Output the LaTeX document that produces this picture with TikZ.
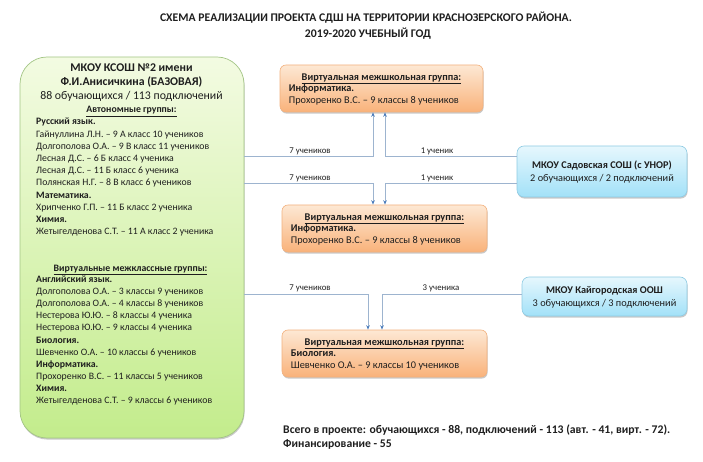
\documentclass[tikz,border=0pt]{standalone}
\usepackage{fontspec}
\setmainfont{Carlito}
\usetikzlibrary{arrows.meta,shadows}
\definecolor{gtop}{HTML}{F3FBE2}
\definecolor{gbot}{HTML}{C3EC8C}
\definecolor{gbord}{HTML}{A3C585}
\definecolor{otop}{HTML}{FDE8D4}
\definecolor{obot}{HTML}{F9B27A}
\definecolor{obord}{HTML}{F2B17E}
\definecolor{btop}{HTML}{E6F7FD}
\definecolor{bbot}{HTML}{A2E1F8}
\definecolor{bbord}{HTML}{8FCBE3}
\definecolor{connc}{HTML}{9DB4CF}
\definecolor{arrc}{HTML}{4F7FBD}
\definecolor{txtc}{HTML}{1E1E1E}
\newcommand{\myfh}{\fontsize{11.8}{13}\selectfont}
\newcommand{\myfb}{\fontsize{9.8}{11}\selectfont}
\newcommand{\myfo}{\fontsize{10.3}{11}\selectfont}
\newcommand{\myfl}{\fontsize{8.8}{9}\selectfont}
\newcommand{\myft}{\fontsize{11.7}{13}\selectfont}
\begin{document}
\begin{tikzpicture}[x=1pt,y=-1pt,
  txt/.style={inner sep=0pt, text=txtc},
  gbox/.style={rounded corners=27pt, draw=gbord, line width=0.7pt, top color=gtop, bottom color=gbot, minimum width=224pt, minimum height=381pt, inner sep=0pt,
    drop shadow={shadow xshift=0.6pt, shadow yshift=-1.6pt, opacity=0.3, fill=black!70}},
  obox/.style={rounded corners=6pt, draw=obord, line width=0.6pt, top color=otop, bottom color=obot, minimum height=47pt, inner sep=0pt,
    drop shadow={shadow xshift=0.6pt, shadow yshift=-1.6pt, opacity=0.3, fill=black!70}},
  bbox/.style={rounded corners=7pt, draw=bbord, line width=0.6pt, top color=btop, bottom color=bbot, inner sep=0pt,
    drop shadow={shadow xshift=0.6pt, shadow yshift=-1.6pt, opacity=0.3, fill=black!70}},
  conn/.style={draw=connc, line width=0.9pt, -{Stealth[length=4.5pt,width=3.6pt,color=arrc]}},
  lbl/.style={font=\myfl, inner sep=0pt, text=txtc},
]
\useasboundingbox (0,0) rectangle (703,462);

% title
\node[txt, font=\myft\bfseries] (t1) at (366,18) {СХЕМА РЕАЛИЗАЦИИ ПРОЕКТА СДШ НА ТЕРРИТОРИИ КРАСНОЗЕРСКОГО РАЙОНА.};
\node[txt, font=\myft\bfseries] (t2) at (368,33.5) {2019-2020 УЧЕБНЫЙ ГОД};

% green box
\node[gbox] (green) at (132,247.5) {};
\node[txt, font=\myfh\bfseries, anchor=base] (h1) at (131.5,71.8) {МКОУ КСОШ №2 имени};
\node[txt, font=\myfh\bfseries, anchor=base] (h2) at (131.5,85.8) {Ф.И.Анисичкина (БАЗОВАЯ)};
\node[txt, font=\myfh, anchor=base] (h3) at (131.5,99.8) {88 обучающихся / 113 подключений};
\node[txt, font=\myfb\bfseries, anchor=base] (h4) at (131.5,113) {\underline{Автономные группы:}};
\foreach \t [count=\i] in {
  {\textbf{Русский язык.}},
  {Гайнуллина Л.Н. – 9 А класс 10 учеников},
  {Долгополова О.А. – 9 В класс 11 учеников},
  {Лесная Д.С. – 6 Б класс 4 ученика},
  {Лесная Д.С. – 11 Б класс 6 ученика},
  {Полянская Н.Г. – 8 В класс 6 учеников},
  {\textbf{Математика.}},
  {Хрипченко Г.П. – 11 Б класс 2 ученика},
  {\textbf{Химия.}},
  {Жетыгелденова С.Т. – 11 А класс 2 ученика}}
  {\node[txt, font=\myfb, anchor=base west] (ga\i) at (36,{124.9+(\i-1)*12.2}) {\t};}
\node[txt, font=\myfb\bfseries, anchor=base] (h5) at (130.5,271.5) {\underline{Виртуальные межклассные группы:}};
\foreach \t [count=\i] in {
  {\textbf{Английский язык.}},
  {Долгополова О.А. – 3 классы 9 учеников},
  {Долгополова О.А. – 4 классы 8 учеников},
  {Нестерова Ю.Ю. – 8 классы 4 ученика},
  {Нестерова Ю.Ю. – 9 классы 4 ученика},
  {\textbf{Биология.}},
  {Шевченко О.А. – 10 классы 6 учеников},
  {\textbf{Информатика.}},
  {Прохоренко В.С. – 11 классы 5 учеников},
  {\textbf{Химия.}},
  {Жетыгелденова С.Т. – 9 классы 6 учеников}}
  {\node[txt, font=\myfb, anchor=base west] (gb\i) at (36,{282.5+(\i-1)*12.1}) {\t};}

% orange boxes
\node[obox, minimum width=203pt] (o1) at (381.5,88.5) {};
\node[obox, minimum width=205pt] (o2) at (384.5,228.5) {};
\node[obox, minimum width=205pt] (o3) at (384.5,353.5) {};
\foreach \b/\s/\p in {o1/Информатика./{Прохоренко В.С. – 9 классы 8 учеников},
                      o2/Информатика./{Прохоренко В.С. – 9 классы 8 учеников},
                      o3/Биология./{Шевченко О.А. – 9 классы 10 учеников}}{
  \node[txt, font=\myfo\bfseries, anchor=base] (\b t) at ([yshift=-15.5pt]\b.north) {\underline{Виртуальная межшкольная группа:}};
  \node[txt, font=\myfo\bfseries, anchor=base west] (\b s) at ([xshift=9pt,yshift=-27pt]\b.north west) {\s};
  \node[txt, font=\myfo, anchor=base west] (\b p) at ([xshift=9pt,yshift=-39pt]\b.north west) {\p};
}

% blue boxes
\node[bbox, minimum width=170pt, minimum height=51pt] (b1) at (602,171.5) {};
\node[txt, font=\myfo\bfseries, anchor=base] (b1a) at (602,168.5) {МКОУ Садовская СОШ (с УНОР)};
\node[txt, font=\myfo, anchor=base] (b1b) at (602,181.5) {2 обучающихся / 2 подключений};
\node[bbox, minimum width=165pt, minimum height=39pt] (b2) at (604.5,296.5) {};
\node[txt, font=\myfo\bfseries, anchor=base] (b2a) at (604.5,293.5) {МКОУ Кайгородская ООШ};
\node[txt, font=\myfo, anchor=base] (b2b) at (604.5,306.5) {3 обучающихся / 3 подключений};

% connectors
\draw[conn] (green.east |- 0,156) -| (o1.south -| 373,0);
\draw[conn] (b1.west |- 0,156) -| (o1.south -| 385,0);
\draw[conn] (green.east |- 0,183) -| (o2.north -| 373,0);
\draw[conn] (b1.west |- 0,183) -| (o2.north -| 385,0);
\draw[conn] (green.east |- 0,294) -| (o3.north -| 368,0);
\draw[conn] (b2.west |- 0,294) -| (o3.north -| 382,0);

\node[lbl] (l1) at (310,151.5) {7 учеников};
\node[lbl] (l2) at (437,151.5) {1 ученик};
\node[lbl] (l3) at (310,178) {7 учеников};
\node[lbl] (l4) at (437,178) {1 ученик};
\node[lbl] (l5) at (310,288.5) {7 учеников};
\node[lbl] (l6) at (441,288.5) {3 ученика};

% totals
\node[txt, font=\myft\bfseries, anchor=base west] (s1) at (283,433.5) {Всего в проекте: обучающихся - 88, подключений - 113 (авт. - 41, вирт. - 72).};
\node[txt, font=\myft\bfseries, anchor=base west] (s2) at (283,447) {Финансирование - 55};
\end{tikzpicture}
\end{document}
